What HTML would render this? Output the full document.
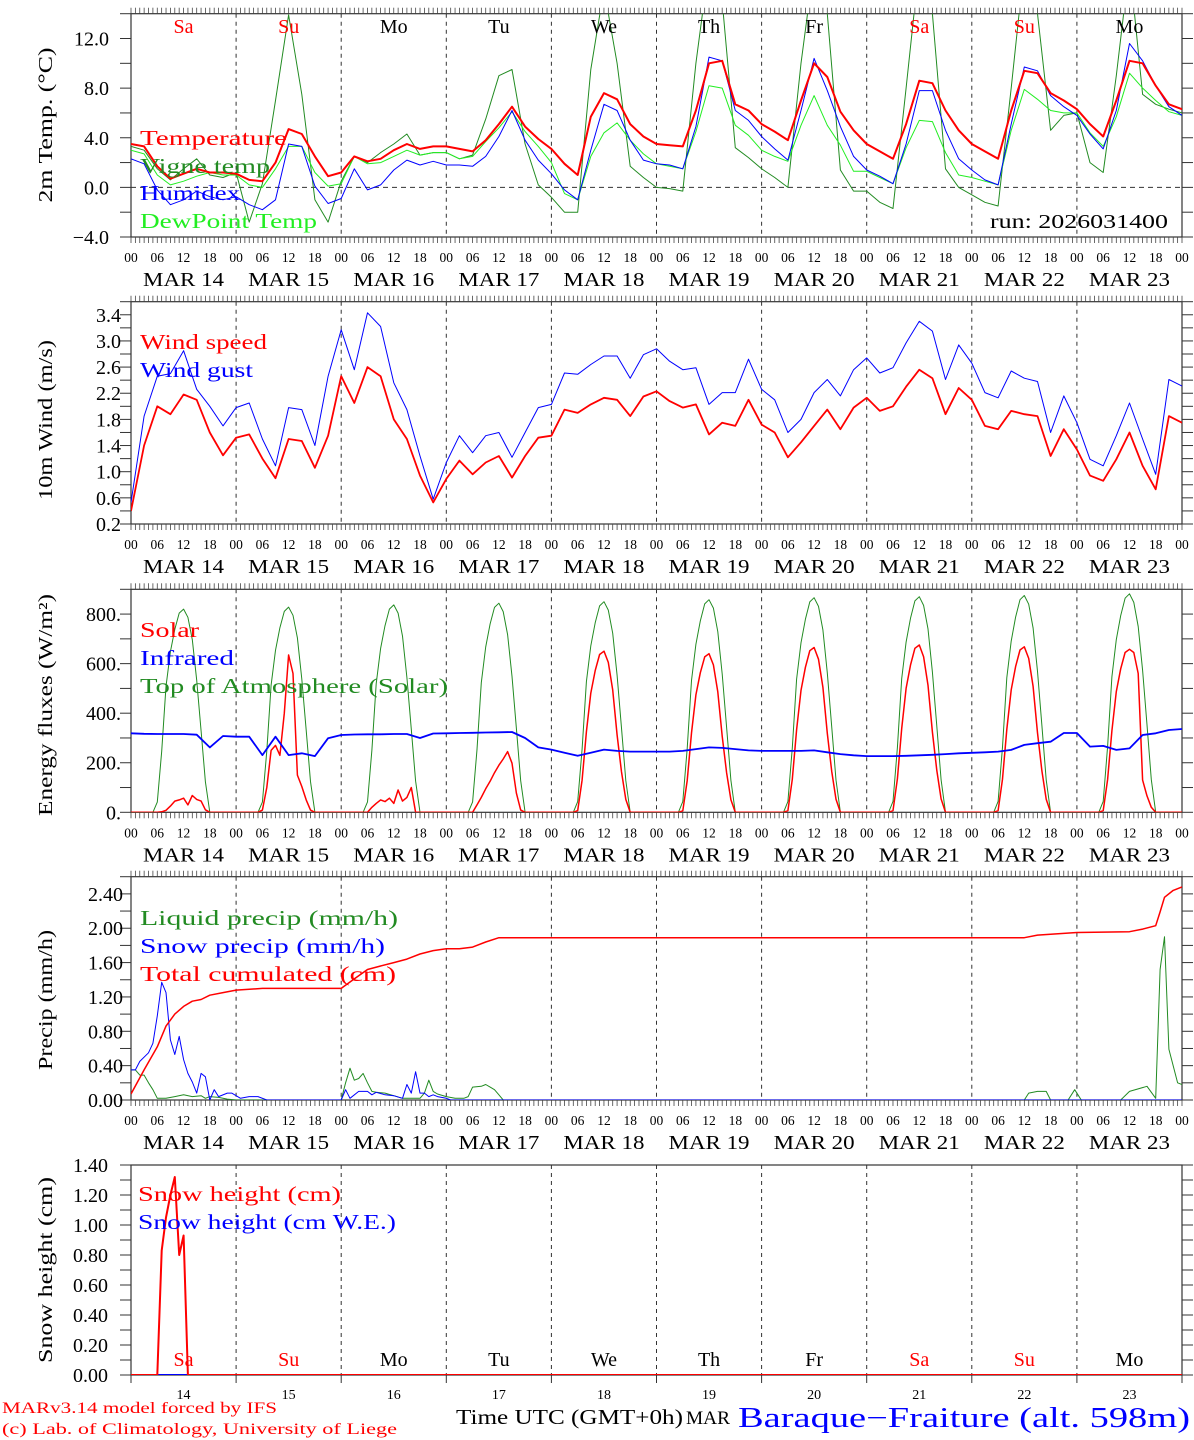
<!DOCTYPE html>
<html><head><meta charset="utf-8">
<style>
html,body{margin:0;padding:0;background:#fff;}
svg{display:block;font-family:"Liberation Serif",serif;}
</style></head>
<body>
<svg id="chart" width="1194" height="1440" viewBox="0 0 1194 1440" xmlns="http://www.w3.org/2000/svg"></svg>
<script>
// ---------- DATA (3-hourly, hour 0..240) ----------
const dayNames = ["Sa","Su","Mo","Tu","We","Th","Fr","Sa","Su","Mo"];
const dayNums = ["14","15","16","17","18","19","20","21","22","23"];
const hourLabels = ["00","06","12","18"];
const tempT = [3.5,3.3,1.7,0.7,1.1,1.5,1.2,1.2, 1.1,0.6,0.5,2.0,4.7,4.3,2.5,0.9, 1.2,2.5,2.1,2.3,3.0,3.5,3.1,3.3, 3.3,3.1,2.9,3.8,5.1,6.5,4.9,3.9, 3.1,1.9,1.0,5.7,7.6,7.1,5.1,4.1, 3.5,3.4,3.3,6.2,10.0,10.2,6.7,6.2, 5.1,4.5,3.8,7.0,10.0,8.9,6.1,4.6, 3.5,2.9,2.3,5.1,8.6,8.4,6.2,4.6, 3.5,2.9,2.3,6.2,9.4,9.2,7.6,7.0, 6.3,5.1,4.1,7.0,10.2,10.0,8.2,6.7,6.3];
const tempV = [3.3,3.0,1.5,0.6,1.5,2.3,1.0,0.8, 1.2,-2.8,0.3,7.0,13.9,7.5,-1.0,-2.8, 0.5,2.5,2.0,2.8,3.5,4.3,2.6,2.8, 2.8,2.3,2.6,5.5,9.0,9.5,3.5,0.2, -0.8,-2.0,-2.0,9.5,16,10,1.7,0.8, 0.0,-0.1,-0.3,10,18,15,3.2,2.4, 1.5,0.8,0.0,10,18,14,1.4,-0.3, -0.3,-1.2,-1.7,8,18,14,1.5,0.0, -0.6,-1.2,-1.5,8,18,14,4.6,5.8, 6.0,2.0,1.2,9,18,7.5,6.7,6.3,6.0];
const tempH = [2.3,1.9,-0.2,-1.4,-1.0,-0.3,-0.75,-1.0, -0.75,-1.4,-1.8,-1.0,3.5,3.3,0.1,-1.3, -0.9,1.5,-0.2,0.2,1.4,2.2,1.8,2.1, 1.8,1.8,1.7,2.5,4.1,6.2,3.8,2.2, 1.1,-0.2,-1.0,3.0,6.7,6.2,3.8,2.2, 1.9,1.8,1.5,4.9,10.5,10.2,6.2,5.4, 4.1,3.1,2.2,6.2,10.4,7.8,4.9,2.5, 1.4,0.9,0.3,3.5,7.8,7.8,4.6,2.3, 1.4,0.6,0.2,5.1,9.7,9.4,7.4,6.5, 5.8,4.3,3.1,6.2,11.6,10.2,8.2,6.5,5.8];
const tempD = [3.0,2.7,1.0,0.2,0.5,0.9,1.2,1.0, 1.0,0.2,0.0,1.5,3.3,3.3,1.2,0.1, 0.3,2.5,1.9,2.0,2.5,3.0,2.6,2.8, 2.8,2.3,2.5,3.7,4.8,6.1,4.5,3.3, 2.0,-0.5,-1.0,2.5,4.4,5.2,3.8,2.7, 1.9,1.7,1.5,4.5,8.2,8.0,5.0,4.2, 3.0,2.5,2.1,5.0,7.4,5.0,3.4,1.3, 1.3,0.8,0.3,3.2,5.4,5.3,2.8,1.0, 0.8,0.5,0.2,4.6,7.9,7.1,6.2,6.0, 6.0,4.4,3.3,5.7,9.2,8.0,7.0,6.1,5.8];
const windSpeed = [0.4,1.4,2.0,1.88,2.18,2.1,1.6,1.25, 1.52,1.57,1.2,0.9,1.5,1.47,1.06,1.55, 2.46,2.05,2.6,2.46,1.8,1.5,0.94,0.53, 0.89,1.17,0.96,1.14,1.24,0.91,1.24,1.52, 1.55,1.95,1.9,2.03,2.13,2.1,1.85,2.15, 2.23,2.08,1.98,2.03,1.57,1.75,1.7,2.1, 1.72,1.6,1.22,1.45,1.7,1.95,1.65,1.98, 2.13,1.93,2.0,2.3,2.56,2.43,1.88,2.28, 2.1,1.7,1.65,1.93,1.88,1.85,1.24,1.65, 1.34,0.94,0.86,1.19,1.6,1.09,0.73,1.85,1.75];
const windGust = [0.53,1.85,2.46,2.5,2.85,2.26,2.0,1.7, 1.98,2.05,1.5,1.09,1.98,1.95,1.4,2.46, 3.17,2.56,3.43,3.22,2.36,1.95,1.24,0.58, 1.14,1.55,1.29,1.55,1.6,1.22,1.6,1.98, 2.03,2.51,2.49,2.64,2.77,2.77,2.43,2.79, 2.88,2.69,2.56,2.59,2.03,2.21,2.21,2.72, 2.26,2.1,1.6,1.8,2.21,2.41,2.16,2.56, 2.74,2.51,2.59,2.97,3.3,3.15,2.41,2.94, 2.66,2.21,2.13,2.54,2.43,2.38,1.6,2.16, 1.75,1.19,1.09,1.55,2.05,1.5,0.96,2.41,2.31];
const infrared = [319,317,316,316,316,313,262,308, 305,305,231,305,231,238,227,299, 312,314,315,315,316,316,300,318, 319,320,321,322,323,324,300,262, 253,240,228,240,253,248,245,245, 245,245,248,255,262,260,255,250, 248,248,248,248,250,242,235,230, 227,227,227,228,230,232,235,238, 240,242,245,252,272,279,285,320, 320,265,268,252,258,312,319,332,336];
// hourly daytime values, hours 5..18 for each day
const solarByDay = [
 [0,0,2,8,25,45,50,57,30,68,52,45,10,0],
 [0,9,100,250,270,230,400,635,560,150,104,50,9,0],
 [0,0,20,36,50,43,57,36,90,45,60,100,0,0],
 [0,0,30,60,95,125,160,190,215,245,198,77,9,0],
 [0,7,130,325,481,572,637,650,605,494,312,163,52,0],
 [0,6,128,320,474,563,627,640,595,486,307,160,51,0],
 [0,7,133,333,492,585,652,665,618,505,319,166,53,0],
 [0,7,135,338,500,594,662,675,628,513,324,169,54,0],
 [0,7,134,334,494,588,655,668,621,508,321,167,53,0],
 [0,7,132,329,487,579,645,658,645,560,130,66,20,0]];
const toaByDay = [
 [0,41,246,508,648,738,804,820,787,697,533,328,123,0],
 [0,41,248,513,654,745,811,828,795,704,538,331,124,0],
 [0,42,251,519,661,753,820,837,804,711,544,335,126,0],
 [0,42,253,523,667,760,827,844,810,717,549,338,127,0],
 [0,43,255,527,672,765,833,850,816,723,553,340,128,0],
 [0,43,257,532,678,772,841,858,824,729,558,343,129,0],
 [0,43,260,537,684,779,849,866,831,736,563,346,130,0],
 [0,44,261,539,687,783,853,870,835,740,566,348,131,0],
 [0,44,263,543,691,788,858,875,840,744,569,350,131,0],
 [0,44,265,547,697,794,864,882,847,750,573,353,132,0]];
const liquidHours = [0,1,2,3,4,5,6,8,10,12,14,16,17,18,20,22,24,48,49,50,51,52,53,54,55,56,58,60,62,66,67,68,69,70,72,74,76,77,78,80,81,82,83,84,85,204,205,207,209,210,214,215.5,217,226,228,232,234,235,236,237,239,240];
const liquidVals = [0.35,0.35,0.29,0.29,0.2,0.12,0.02,0.02,0.04,0.06,0.04,0.05,0.02,0.04,0.03,0.01,0,0,0.2,0.37,0.23,0.25,0.31,0.2,0.1,0.09,0.08,0.05,0.02,0.02,0.08,0.23,0.1,0.07,0.04,0.02,0.02,0.04,0.15,0.16,0.18,0.15,0.12,0.06,0,0,0.08,0.1,0.1,0,0,0.12,0,0,0.1,0.16,0.02,1.52,1.9,0.59,0.2,0.18];
const snowHours = [0,1,2,4,5,6,7,8,9,10,11,12,13,14,15,16,17,18,19,20,22,23,25,27,29,31,48,49,50,52,54,55,56,58,60,62,63,64,65,66,67,68,69,70,72,73,240];
const snowVals = [0.35,0.35,0.45,0.55,0.66,0.98,1.37,1.25,0.7,0.53,0.74,0.47,0.31,0.21,0.08,0.31,0.27,0,0.12,0.04,0.08,0.08,0.02,0.04,0.04,0,0,0.12,0.02,0.1,0.1,0.06,0.09,0.06,0.05,0.02,0.18,0.08,0.33,0.08,0.08,0.04,0.06,0.04,0.02,0,0];
const cumHours = [0,3,6,8,10,12,14,16,18,21,24,30,48,51,54,57,60,63,66,69,72,75,78,81,84,204,207,210,216,228,231,234,235,236,238,240];
const cumVals = [0.07,0.35,0.62,0.86,1.0,1.09,1.15,1.17,1.22,1.25,1.28,1.3,1.3,1.41,1.52,1.56,1.6,1.64,1.7,1.74,1.76,1.76,1.78,1.84,1.89,1.89,1.92,1.93,1.95,1.96,1.99,2.03,2.19,2.36,2.44,2.48];
const snowHHours = [0,6,7,8,9,10,11,12,13,240];
const snowHVals = [0,0,0.83,1.05,1.2,1.32,0.8,0.93,0,0];
const snowWEHours = [0,240];
const snowWEVals = [0,0];
const p1Ticks = ["\u22124.0","0.0","4.0","8.0","12.0"];
const p2Ticks = ["0.2","0.6","1.0","1.4","1.8","2.2","2.6","3.0","3.4"];
const p3Ticks = ["0.","200.","400.","600.","800."];
const p4Ticks = ["0.00","0.40","0.80","1.20","1.60","2.00","2.40"];
const p5Ticks = ["0.00","0.20","0.40","0.60","0.80","1.00","1.20","1.40"];

// ---------- DRAWING ----------
const NS = "http://www.w3.org/2000/svg";
const svg = document.getElementById("chart");
const RED = "#ff0000", BLUE = "#0000ff", DG = "#228b22", LG = "#22ee22";
function mk(tag, attrs, parent) {
  const e = document.createElementNS(NS, tag);
  for (const k in attrs) e.setAttribute(k, attrs[k]);
  (parent || svg).appendChild(e);
  return e;
}
function txt(s, x, y, size, color, anchor, len, parent) {
  const t = mk("text", {x: x, y: y, "font-size": size, fill: color || "#000", "text-anchor": anchor || "start"}, parent);
  if (len) { t.setAttribute("textLength", len); t.setAttribute("lengthAdjust", "spacingAndGlyphs"); }
  t.textContent = s;
  return t;
}
const X0 = 131, X1 = 1182;
function xh(h) { return X0 + (X1 - X0) * h / 240; }
const panels = [
  {top: 13.7, bottom: 237, min: -4, max: 14, minor: 2, major: 4, labX: 109, ticks: p1Ticks, title: "2m Temp. (\u00B0C)", tY: 125, tLen: 155},
  {top: 301.7, bottom: 524, min: 0.2, max: 3.6, minor: 0.2, major: 0.4, labX: 121, ticks: p2Ticks, title: "10m Wind (m/s)", tY: 420, tLen: 160},
  {top: 589.3, bottom: 812.3, min: 0, max: 900, minor: 100, major: 200, labX: 121, ticks: p3Ticks, title: "Energy fluxes (W/m\u00B2)", tY: 705, tLen: 222},
  {top: 876.7, bottom: 1100, min: 0, max: 2.6, minor: 0.2, major: 0.4, labX: 123, ticks: p4Ticks, title: "Precip (mm/h)", tY: 1000, tLen: 140},
  {top: 1165, bottom: 1375, min: 0, max: 1.4, minor: 0.1, major: 0.2, labX: 108, ticks: p5Ticks, title: "Snow height (cm)", tY: 1270, tLen: 186}
];
function yv(p, v) { return p.bottom - (v - p.min) / (p.max - p.min) * (p.bottom - p.top); }

function drawAxes(p, idx) {
  const g = mk("g", {});
  
  
  const defs = mk("clipPath", {id: "clip" + idx});
  mk("rect", {x: X0, y: p.top, width: X1 - X0, height: p.bottom - p.top}, defs);
  // day dividers
  for (let d = 1; d < 10; d++) {
    const l = mk("line", {x1: xh(d * 24), x2: xh(d * 24), y1: p.top, y2: p.bottom, stroke: "#333", "stroke-width": 1, "stroke-dasharray": "4,4"}, g);
    
    
  }
  // y ticks
  const nMinor = Math.round((p.max - p.min) / p.minor);
  for (let i = 0; i <= nMinor; i++) {
    const y = p.bottom - i * (p.bottom - p.top) / nMinor;
    mk("line", {x1: X0 - 11, x2: X0, y1: y, y2: y, stroke: "#333"}, g);
    mk("line", {x1: X1, x2: X1 + 11, y1: y, y2: y, stroke: "#333"}, g);
  }
  const step = p.major / p.minor;
  p.ticks.forEach((s, i) => {
    const v = p.min + i * p.major;
    const t = txt(s, p.labX, yv(p, v) + 7, 20, "#000", "end", null, g);
    
    
  });
  // frame
  mk("rect", {x: X0, y: p.top, width: X1 - X0, height: p.bottom - p.top, fill: "none", stroke: "#333", "stroke-width": 1.2}, g);
  if (idx < 4) {
    for (let h = 0; h <= 240; h++) {
      mk("line", {x1: xh(h), x2: xh(h), y1: p.top - 6, y2: p.top, stroke: "#444", "stroke-width": 0.8}, g);
      mk("line", {x1: xh(h), x2: xh(h), y1: p.bottom, y2: p.bottom + 6, stroke: "#444", "stroke-width": 0.8}, g);
    }
    for (let d = 0; d <= 10; d++) {
      for (let k = 0; k < 4; k++) {
        if (d === 10 && k > 0) break;
        const t = txt(hourLabels[k], xh(d * 24 + k * 6), p.bottom + 25, 13.5, "#000", "middle", null, g);
        
        
      }
      if (d < 10) {
        const t = txt("MAR  " + dayNums[d], xh(d * 24 + 12), p.bottom + 49, 20, "#000", "middle", 81, g);
        
        
      }
    }
  } else {
    for (let d = 0; d <= 10; d++) {
      mk("line", {x1: xh(d * 24), x2: xh(d * 24), y1: p.bottom, y2: p.bottom + 8, stroke: "#333"}, g);
    }
  }
  const tt = mk("text", {x: 0, y: 0, "font-size": 20, fill: "#000", "text-anchor": "middle", transform: "translate(52," + p.tY + ") rotate(-90)", textLength: p.tLen, lengthAdjust: "spacingAndGlyphs"}, g);
  tt.textContent = p.title;
  
  
}
function line3(p, idx, arr, color, w, name) {
  const pts = arr.map((v, i) => xh(i * 3).toFixed(1) + "," + yv(p, v).toFixed(1)).join(" ");
  const l = mk("polyline", {points: pts, fill: "none", stroke: color, "stroke-width": w, "clip-path": "url(#clip" + idx + ")", "stroke-linejoin": "round"});
  
  
}
function lineXY(p, idx, hs, vs, color, w, name) {
  const pts = hs.map((h, i) => xh(h).toFixed(1) + "," + yv(p, vs[i]).toFixed(1)).join(" ");
  const l = mk("polyline", {points: pts, fill: "none", stroke: color, "stroke-width": w, "clip-path": "url(#clip" + idx + ")", "stroke-linejoin": "round"});
  
  
}
function lineDaily(p, idx, byDay, color, w, name) {
  const pts = [];
  pts.push(xh(0) + "," + yv(p, 0));
  byDay.forEach((vals, d) => {
    vals.forEach((v, k) => { pts.push(xh(d * 24 + 5 + k).toFixed(1) + "," + yv(p, v).toFixed(1)); });
  });
  pts.push(xh(240) + "," + yv(p, 0));
  const l = mk("polyline", {points: pts.join(" "), fill: "none", stroke: color, "stroke-width": w, "clip-path": "url(#clip" + idx + ")", "stroke-linejoin": "round"});
  
  
}
function legend(s, x, y, color, len) {
  const t = txt(s, x, y, 21, color, "start", len);
  
  
}

panels.forEach((p, i) => drawAxes(p, i));

// Panel 1
const P1 = panels[0];
const zl = mk("line", {x1: X0, x2: X1, y1: yv(P1, 0), y2: yv(P1, 0), stroke: "#333", "stroke-dasharray": "5,4"});


line3(P1, 0, tempV, DG, 1, "vigne-temp-line");
line3(P1, 0, tempD, LG, 1, "dewpoint-line");
line3(P1, 0, tempH, BLUE, 1, "humidex-line");
line3(P1, 0, tempT, RED, 2, "temperature-line");
dayNames.forEach((n, d) => {
  const col = (n === "Sa" || n === "Su") ? RED : "#000";
  const t = txt(n, xh(d * 24 + 12), 33, 20, col, "middle");
  
  
});
legend("Temperature", 140, 145, RED, 147);
legend("Vigne temp", 140, 173, DG, 130);
legend("Humidex", 140, 200, BLUE, 100);
legend("DewPoint Temp", 140, 228, LG, 177);
const run = txt("run: 2026031400", 1168, 228, 20, "#000", "end", 178);



// Panel 2
const P2 = panels[1];
line3(P2, 1, windGust, BLUE, 1, "wind-gust-line");
line3(P2, 1, windSpeed, RED, 1.8, "wind-speed-line");
legend("Wind speed", 140, 349, RED, 127);
legend("Wind gust", 140, 377, BLUE, 113);

// Panel 3
const P3 = panels[2];
lineDaily(P3, 2, toaByDay, DG, 1, "toa-solar-line");
lineDaily(P3, 2, solarByDay, RED, 1.5, "solar-line");
line3(P3, 2, infrared, BLUE, 1.8, "infrared-line");
legend("Solar", 140, 637, RED, 59);
legend("Infrared", 140, 665, BLUE, 94);
legend("Top of Atmosphere (Solar)", 140, 693, DG, 308);

// Panel 4
const P4 = panels[3];
lineXY(P4, 3, liquidHours, liquidVals, DG, 1, "liquid-precip-line");
lineXY(P4, 3, snowHours, snowVals, BLUE, 1, "snow-precip-line");
lineXY(P4, 3, cumHours, cumVals, RED, 1.5, "total-cumulated-line");
legend("Liquid precip (mm/h)", 140, 925, DG, 258);
legend("Snow precip (mm/h)", 140, 953, BLUE, 245);
legend("Total cumulated (cm)", 140, 981, RED, 256);

// Panel 5
const P5 = panels[4];
lineXY(P5, 4, snowWEHours, snowWEVals, BLUE, 2, "snow-we-line");
lineXY(P5, 4, snowHHours, snowHVals, RED, 2, "snow-height-line");
legend("Snow height (cm)", 138, 1201, RED, 203);
legend("Snow height (cm W.E.)", 138, 1229, BLUE, 258);
dayNames.forEach((n, d) => {
  const col = (n === "Sa" || n === "Su") ? RED : "#000";
  const t = txt(n, xh(d * 24 + 12), 1366, 20, col, "middle");
  
  
  const t2 = txt(dayNums[d], xh(d * 24 + 12), 1399, 14, "#000", "middle");
  
  
});

// Footer
const f1 = txt("MARv3.14 model forced by IFS", 2, 1413, 16, RED, "start", 275);


const f2 = txt("(c) Lab. of Climatology, University of Liege", 2, 1434, 16, RED, "start", 395);


const f3 = txt("Time UTC (GMT+0h)", 456, 1424, 21, "#000", "start", 227);


const f4 = txt("MAR", 686, 1424, 19, "#000", "start", 44);


const f5 = txt("Baraque\u2212Fraiture (alt. 598m)", 738, 1427, 28, BLUE, "start", 452);


</script>
</body></html>
